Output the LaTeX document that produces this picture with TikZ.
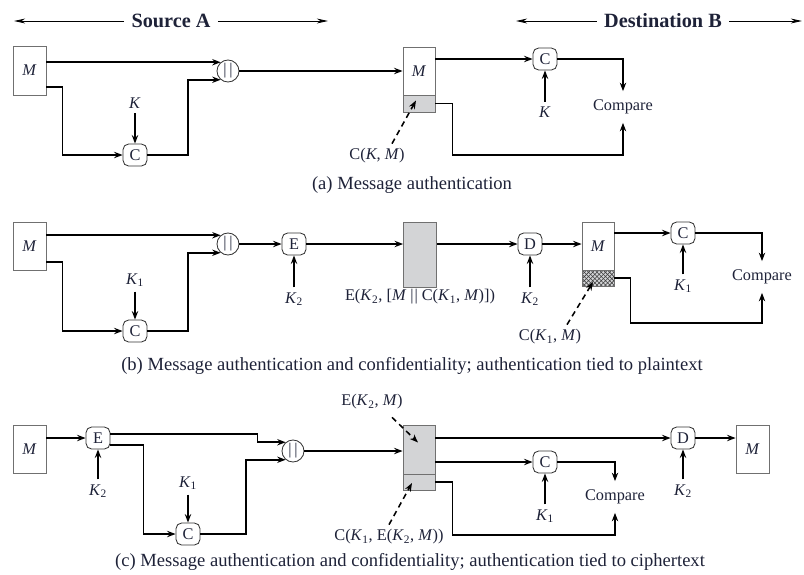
\documentclass[tikz,border=0pt]{standalone}
\usepackage{fontspec}
\setmainfont{Liberation Serif}
\usepackage{tikz}
\usetikzlibrary{calc,arrows.meta}
\usetikzlibrary{patterns}
\definecolor{mac-gray}{HTML}{D3D4D6}
\definecolor{mac-text}{HTML}{1E2238}
\definecolor{mac-edge}{HTML}{707070}
\newcommand{\keysub}[1]{\textit{K}\textsubscript{#1}}

\begin{document}
\begin{tikzpicture}[x=0.025cm, y=-0.025cm,
    every node/.style={text=mac-text, font=\fontsize{11.6}{13}\selectfont},
    link/.style={line width=1.1pt, -{Stealth[length=6pt,width=4.5pt]}},
    dashlink/.style={line width=1.1pt, dash pattern=on 4pt off 3pt, -{Stealth[length=6pt,width=4.5pt]}},
    hdr/.style={line width=0.6pt, -{Stealth[length=8pt,width=3.5pt]}},
    side/.style={font=\fontsize{14.4}{16}\selectfont\bfseries, inner sep=5pt},
    caption/.style={font=\fontsize{13.2}{15}\selectfont},
    msgbox/.style={draw=mac-edge, line width=0.6pt, minimum width=0.825cm, minimum height=1.2cm, inner sep=0pt},
    tagbox/.style={draw=mac-edge, fill=mac-gray, line width=0.6pt, minimum width=0.8cm, inner sep=0pt},
    hatchbox/.style={draw=mac-edge, line width=0.6pt, preaction={fill=mac-gray}, pattern=crosshatch, pattern color=black!75, minimum width=0.8cm, minimum height=0.4cm, inner sep=0pt},
    fn/.style={draw=black!80, line width=0.6pt, rounded corners=4pt, minimum width=0.6cm, minimum height=0.55cm, inner sep=0pt},
    joinop/.style={circle, draw=black!80, line width=0.6pt, minimum size=0.55cm, inner sep=0pt},
    cmp/.style={inner sep=6pt}]
    \useasboundingbox (0,0) rectangle (804,574);
    % Source / destination headers
    \node[side] (srca) at (171,21) {Source A};
    \coordinate (srcl) at (14,21);
    \coordinate (srcr) at (328,21);
    \draw[hdr] (srca.west) -- (srcl);
    \draw[hdr] (srca.east) -- (srcr);
    \node[side] (dstb) at (663,21) {Destination B};
    \coordinate (dstl) at (516,21);
    \coordinate (dstr) at (802,21);
    \draw[hdr] (dstb.west) -- (dstl);
    \draw[hdr] (dstb.east) -- (dstr);

    % (a) Message authentication
    \node[msgbox, minimum height=1.225cm] (ma) at (29.5,70.5) {\textit{M}};
    \node[fn] (maca) at (135,155) {C};
    \node (ka) at (135,103) {\textit{K}};
    \node[joinop] (cata) at (228,71) {|\,|};
    \node[tagbox, minimum height=1.2cm, fill=white] (rxa) at (419,71) {\textit{M}};
    \node[tagbox, minimum height=0.425cm] (rxab) at (419,103.5) {};
    \node[fn] (cra) at (545,59) {C};
    \node (kra) at (545,112) {\textit{K}};
    \node[cmp] (cmpa) at (623,107) {Compare};
    \node (cka) at (377,156) {C(\textit{K}, \textit{M})};
    \draw[link] (ma.east |- cata.130) -- (cata.130);
    \draw[link] ($(ma.east)+(0,16.5)$) -- ++(16,0) |- (maca);
    \draw[link] (ka) -- (maca);
    \draw[link] (maca) -- ++(53,0) |- (cata.230);
    \draw[link] (cata) -- (rxa);
    \draw[link] (rxa.east |- cra) -- (cra);
    \draw[link] (kra) -- (cra);
    \draw[link] (cra) -| (cmpa.north);
    \draw[link] (rxab.east) -- ++(17,0) -- ++(0,51.5) -| (cmpa.south);
    \draw[dashlink] ($(cka.north)+(15,0)$) -- ($(rxab.center)+(-3,-3)$);
    \node[caption] (capa) at (412,185) {(a) Message authentication};

    % (b) authentication tied to plaintext
    \node[msgbox] (mb) at (29.5,246) {\textit{M}};
    \node[fn] (macb) at (135,331) {C};
    \node (k1b) at (135,280) {\keysub{1}};
    \node[joinop] (catb) at (228,244) {|\,|};
    \node[fn] (eb) at (294,244) {E};
    \node (k2b) at (294,299) {\keysub{2}};
    \node[tagbox, minimum width=0.825cm, minimum height=1.625cm] (ctb) at (420,254.5) {};
    \node (ctlb) at (420,297) {E(\keysub{2}, [\textit{M} |\kern0.6pt| C(\keysub{1}, \textit{M})])};
    \node[fn] (db) at (530,244) {D};
    \node (k2d) at (530,299) {\keysub{2}};
    \node[tagbox, minimum height=1.2cm, fill=white] (rxb) at (598,246) {\textit{M}};
    \node[hatchbox] (rxbh) at (598,278) {};
    \node[fn] (crb) at (683,233) {C};
    \node (k1r) at (683,286) {\keysub{1}};
    \node[cmp] (cmpb) at (762,277) {Compare};
    \node (cklb) at (550,337) {C(\keysub{1}, \textit{M})};
    \draw[link] (mb.east |- catb.130) -- (catb.130);
    \draw[link] ($(mb.east)+(0,16)$) -- ++(16,0) |- (macb);
    \draw[link] (k1b) -- (macb);
    \draw[link] (macb) -- ++(53,0) |- (catb.230);
    \draw[link] (catb) -- (eb);
    \draw[link] (k2b) -- (eb);
    \draw[link] (eb) -- (ctb.west |- eb);
    \draw[link] (ctb.east |- db) -- (db);
    \draw[link] (k2d) -- (db);
    \draw[link] (db) -- (rxb.west |- db);
    \draw[link] (rxb.east |- crb) -- (crb);
    \draw[link] (k1r) -- (crb);
    \draw[link] (crb) -| (cmpb.north);
    \draw[link] (rxbh.east) -- ++(16,0) -- ++(0,45) -| (cmpb.south);
    \draw[dashlink] ($(cklb.north)+(17,0)$) -- ($(rxbh.center)+(-5,4)$);
    \node[caption] (capb) at (412,366) {(b) Message authentication and confidentiality; authentication tied to plaintext};

    % (c) authentication tied to ciphertext
    \node[msgbox] (mc) at (29.5,449) {\textit{M}};
    \node[fn] (ec) at (98,438) {E};
    \node (k2c) at (98,491) {\keysub{2}};
    \node[fn] (macc) at (188,534) {C};
    \node (k1c) at (188,483) {\keysub{1}};
    \node[joinop] (catc) at (293,451) {|\,|};
    \node[tagbox, minimum height=1.225cm] (ctc) at (419,449.5) {};
    \node[tagbox, minimum height=0.4cm] (ctcb) at (419,482) {};
    \node (e2l) at (372,402) {E(\keysub{2}, \textit{M})};
    \node (c1l) at (389,537) {C(\keysub{1}, E(\keysub{2}, \textit{M}))};
    \node[fn] (crc) at (545,462) {C};
    \node (k1rc) at (545,516) {\keysub{1}};
    \node[cmp] (cmpc) at (615,497) {Compare};
    \node[fn] (dc) at (683,438) {D};
    \node (k2dc) at (683,491) {\keysub{2}};
    \node[msgbox] (mout) at (752.5,449) {\textit{M}};
    \draw[link] (mc.east |- ec) -- (ec);
    \draw[link] (k2c) -- (ec);
    \draw[link] ($(ec.east)+(0,-4)$) -- ++(147,0) |- (catc.130);
    \draw[link] ($(ec.east)+(0,7)$) -- ++(33,0) |- (macc);
    \draw[link] (k1c) -- (macc);
    \draw[link] (macc) -- ++(58,0) |- (catc.230);
    \draw[link] (catc) -- (ctc.west |- catc);
    \draw[link] (ctc.east |- dc) -- (dc);
    \draw[link] (k2dc) -- (dc);
    \draw[link] (dc) -- (mout.west |- dc);
    \draw[link] (ctc.east |- crc) -- (crc);
    \draw[link] (k1rc) -- (crc);
    \draw[link] (crc) -| (cmpc.north);
    \draw[link] (ctcb.east) -- ++(17,0) -- ++(0,53) -| (cmpc.south);
    \draw[dashlink] ($(e2l.south)+(20,3)$) -- ($(ctc.center)+(-1,-7)$);
    \draw[dashlink] (c1l.north) -- ($(ctcb.center)+(-7,1)$);
    \node[caption] (capc) at (410,562) {(c) Message authentication and confidentiality; authentication tied to ciphertext};
\end{tikzpicture}
\end{document}
